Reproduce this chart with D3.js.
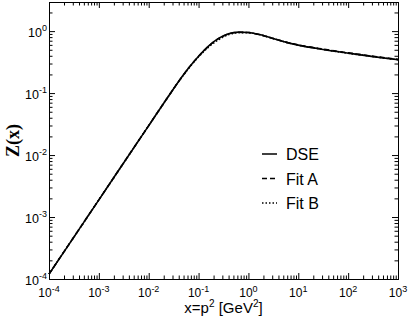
<!DOCTYPE html>
<html>
<head>
<meta charset="utf-8">
<script src="https://cdn.jsdelivr.net/npm/d3@7"></script>
<style>
  body { margin: 0; background: #fff; }
  text { font-family: "Liberation Sans", Arial, sans-serif; fill: #000; }
</style>
</head>
<body>
<div id="vis"></div>
<script>
var w = 409;
var h = 327;

// data
var xs   = [1e-4, 1e-3, 1e-2, 0.0251, 0.0398, 0.0631, 0.1, 0.158, 0.251, 0.398, 0.631, 1, 1.585, 2.51, 3.98, 6.31, 10, 31.6, 100, 316, 1000];
var dse  = [1.2e-4, 1.894e-3, 0.0299, 0.0899, 0.154, 0.2535, 0.393, 0.573, 0.762, 0.908, 0.964, 0.951, 0.887, 0.802, 0.718, 0.646, 0.594, 0.506, 0.441, 0.388, 0.346];
var fitA = [1.2e-4, 1.894e-3, 0.0299, 0.0899, 0.154, 0.2535, 0.392, 0.568, 0.755, 0.9, 0.958, 0.948, 0.886, 0.802, 0.72, 0.649, 0.598, 0.511, 0.446, 0.393, 0.35];
var fitB = [1.2e-4, 1.894e-3, 0.0299, 0.0899, 0.153, 0.25, 0.385, 0.553, 0.728, 0.875, 0.942, 0.946, 0.887, 0.802, 0.718, 0.646, 0.594, 0.506, 0.441, 0.388, 0.346];
var xMajor = [1e-4, 1e-3, 1e-2, 1e-1, 1e0, 1e1, 1e2, 1e3];
var xExp   = ["-4", "-3", "-2", "-1", "0", "1", "2", "3"];
var yMajor = [1e-4, 1e-3, 1e-2, 1e-1, 1e0];
var yExp   = ["-4", "-3", "-2", "-1", "0"];
var legendNames = ["DSE", "Fit A", "Fit B"];
var dashes = [null, "5,3", "1.5,2"];

var pLeft = 49, pRight = 398, pTop = 2, pBottom = 279;

var svg = d3.select("#vis").append("svg").attr("width", w).attr("height", h);

var x = d3.scaleLog().domain([1e-4, 1e3]).range([pLeft, pRight]);
var y = d3.scaleLog().domain([1e-4, 2.95]).range([pBottom, pTop]);

// minor ticks 2..9 in each decade
var xMinor = [];
xMajor.forEach(function (m) { for (var k = 2; k <= 9; k++) { if (m * k < 1e3) xMinor.push(m * k); } });
var yMinor = [];
yMajor.forEach(function (m) { for (var k = 2; k <= 9; k++) { if (m * k <= 2.95) yMinor.push(m * k); } });

function drawAxis(axisFn, scale, vals, size, tx, ty) {
  var g = svg.append("g").attr("transform", "translate(" + tx + "," + ty + ")")
    .call(axisFn(scale).tickValues(vals).tickSize(size).tickFormat(""));
  g.select(".domain").attr("stroke", "#000");
  g.selectAll(".tick line").attr("stroke", "#000");
  return g;
}

// inward ticks on all four sides
drawAxis(d3.axisBottom, x, xMinor, -3.5, 0, pBottom);
drawAxis(d3.axisTop, x, xMinor, -3.5, 0, pTop);
drawAxis(d3.axisLeft, y, yMinor, -3.5, pLeft, 0);
drawAxis(d3.axisRight, y, yMinor, -3.5, pRight, 0);
drawAxis(d3.axisBottom, x, xMajor, -6, 0, pBottom);
drawAxis(d3.axisTop, x, xMajor, -6, 0, pTop);
drawAxis(d3.axisLeft, y, yMajor, -6, pLeft, 0);
drawAxis(d3.axisRight, y, yMajor, -6, pRight, 0);

// x tick labels
var xl = svg.append("g").selectAll("text").data(xMajor).enter().append("text")
  .attr("x", function (d) { return x(d); })
  .attr("y", 297)
  .attr("text-anchor", "middle")
  .style("font-size", "12px");
xl.append("tspan").text("10");
xl.append("tspan").attr("dy", -5).style("font-size", "9px").text(function (d, i) { return xExp[i]; });

// y tick labels
var yl = svg.append("g").selectAll("text").data(yMajor).enter().append("text")
  .attr("x", 47)
  .attr("y", function (d) { return y(d) + 6; })
  .attr("text-anchor", "end")
  .style("font-size", "12.5px");
yl.append("tspan").text("10");
yl.append("tspan").attr("dy", -6).style("font-size", "9px").text(function (d, i) { return yExp[i]; });

// axis titles
var xt = svg.append("text").attr("x", (pLeft + pRight) / 2).attr("y", 313)
  .attr("text-anchor", "middle").style("font-size", "15px");
xt.append("tspan").text("x=p");
xt.append("tspan").attr("dy", -6).style("font-size", "10px").text("2");
xt.append("tspan").attr("dy", 6).text(" [GeV");
xt.append("tspan").attr("dy", -6).style("font-size", "10px").text("2");
xt.append("tspan").attr("dy", 6).text("]");

svg.append("text")
  .attr("transform", "translate(19," + ((pTop + pBottom) / 2) + ") rotate(-90)")
  .attr("text-anchor", "middle")
  .style("font-family", "'Liberation Serif', 'Times New Roman', serif")
  .style("font-weight", "bold")
  .style("font-size", "18px")
  .text("Z(x)");

// curves
var line = d3.line()
  .x(function (d) { return x(d[0]); })
  .y(function (d) { return y(d[1]); })
  .curve(d3.curveMonotoneX);

var series = [dse, fitA, fitB];
series.forEach(function (s, i) {
  svg.append("path")
    .datum(xs.map(function (v, j) { return [v, s[j]]; }))
    .attr("d", line)
    .attr("fill", "none")
    .attr("stroke", "#000")
    .attr("stroke-width", 1.6)
    .attr("stroke-dasharray", dashes[i]);
});

// legend
legendNames.forEach(function (name, i) {
  var ly = 154 + i * 24.5;
  svg.append("line")
    .attr("x1", 262).attr("x2", 277).attr("y1", ly).attr("y2", ly)
    .attr("stroke", "#000").attr("stroke-width", 1.5)
    .attr("stroke-dasharray", dashes[i]);
  svg.append("text").attr("x", 286).attr("y", ly + 6)
    .style("font-size", "16px").text(name);
});
</script>
</body>
</html>
